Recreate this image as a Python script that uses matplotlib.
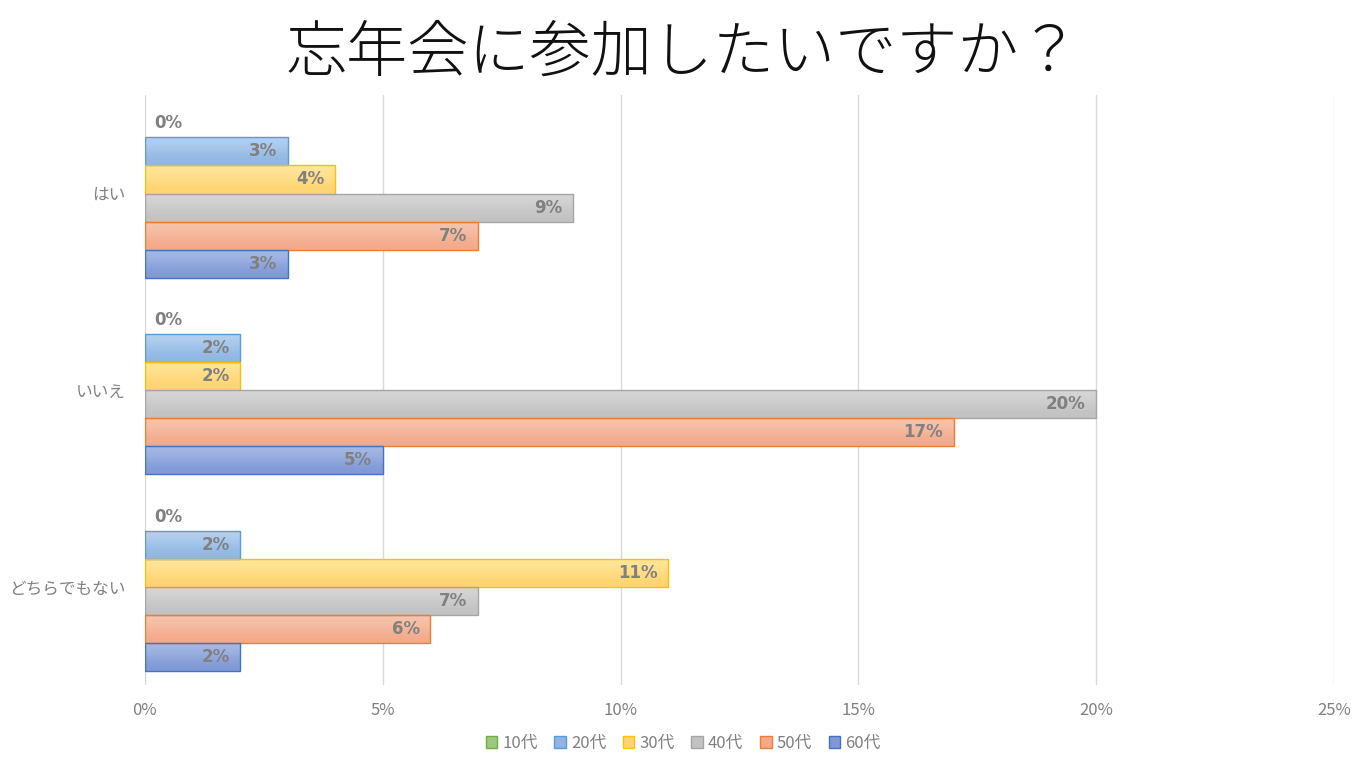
import numpy as np
import matplotlib.pyplot as plt
from matplotlib.patches import Patch
from matplotlib.colors import to_rgb
from matplotlib.ticker import FuncFormatter

plt.rcParams['font.family'] = ['Noto Sans CJK JP', 'DejaVu Sans']

# data
categories = ['はい', 'いいえ', 'どちらでもない']
series = ['10代', '20代', '30代', '40代', '50代', '60代']
values = {
    '10代': [0, 0, 0],
    '20代': [3, 2, 2],
    '30代': [4, 2, 11],
    '40代': [9, 20, 7],
    '50代': [7, 17, 6],
    '60代': [3, 5, 2],
}
x_ticks = [0, 5, 10, 15, 20, 25]

# (top colour, bottom colour, edge colour)
colors = {
    '10代': ('#bfe0a8', '#9cc97e', '#70ad47'),
    '20代': ('#b4d0f0', '#8fb6e2', '#5b9bd5'),
    '30代': ('#ffe59a', '#ffd470', '#ffc000'),
    '40代': ('#d6d6d6', '#c2c2c2', '#a5a5a5'),
    '50代': ('#f7c4ac', '#f3a98a', '#ed7d31'),
    '60代': ('#a6b9e6', '#7f99d6', '#4472c4'),
}
gray = '#808080'

fig = plt.figure(figsize=(13.66, 7.68), dpi=100)
ax = fig.add_axes([0.1061, 0.108, 0.8706, 0.768])

h = 1 / 7
y = np.arange(len(categories))
for i, s in enumerate(series):
    pos = y + (i - 2.5) * h
    top, bottom, edge = colors[s]
    grad = np.array([to_rgb(top), to_rgb(bottom)]).reshape(2, 1, 3)
    for v, p in zip(values[s], pos):
        if v > 0:
            b = ax.barh(p, v, height=h, facecolor='none', edgecolor=edge, linewidth=1, zorder=3)[0]
            im = ax.imshow(grad, extent=(0, v, p + h / 2, p - h / 2), aspect='auto',
                           interpolation='bicubic', zorder=2)
            im.set_clip_path(b)
            ax.text(v - 0.22, p, f'{v}%', ha='right', va='center', fontsize=12,
                    fontweight='bold', color=gray, family='DejaVu Sans', zorder=4)
        else:
            ax.text(0.2, p, f'{v}%', ha='left', va='center', fontsize=12,
                    fontweight='bold', color=gray, family='DejaVu Sans', zorder=4)

ax.set_xlim(0, 25)
ax.set_ylim(len(categories) - 0.5, -0.5)
ax.set_xticks(x_ticks)
ax.xaxis.set_major_formatter(FuncFormatter(lambda v, _: f'{v:.0f}%'))
ax.set_yticks(y)
ax.set_yticklabels(categories)
ax.tick_params(length=0, colors=gray, labelsize=12)
ax.tick_params(axis='x', pad=12)
ax.tick_params(axis='y', pad=14)
ax.grid(axis='x', color='#d9d9d9', linewidth=1, zorder=0)
ax.set_axisbelow(True)
for sp in ax.spines.values():
    sp.set_visible(False)

fig.suptitle('忘年会に参加したいですか？', y=0.972, fontsize=44, color='#111111', fontweight='light')

handles = [Patch(facecolor=colors[s][1], edgecolor=colors[s][2], label=s) for s in series]
leg = fig.legend(handles=handles, loc='center', bbox_to_anchor=(0.5, 0.032), ncol=6,
                 frameon=False, fontsize=12, handlelength=0.7, handleheight=0.7,
                 handletextpad=0.3, columnspacing=1.0)
for t in leg.get_texts():
    t.set_color(gray)

fig.savefig('out.png', dpi=100)
